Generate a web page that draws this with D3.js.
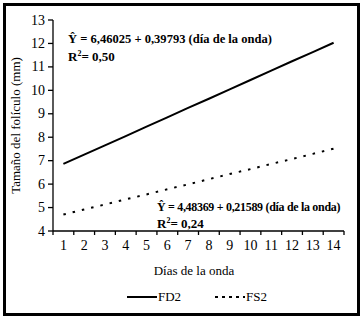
<!DOCTYPE html>
<html><head><meta charset="utf-8">
<script src="https://cdn.jsdelivr.net/npm/d3@7"></script>
<style>body{margin:0;background:#fff}svg{display:block}
svg text{font-family:'Liberation Serif','Times New Roman','DejaVu Serif',serif}</style>
</head><body>
<svg id="c" width="361" height="319"></svg>
<script>
const days = [1,2,3,4,5,6,7,8,9,10,11,12,13,14];
const fd2 = [6.86,7.26,7.65,8.05,8.45,8.85,9.25,9.64,10.04,10.44,10.84,11.24,11.63,12.03];
const fs2 = [4.70,4.92,5.13,5.35,5.56,5.78,5.99,6.21,6.43,6.64,6.86,7.07,7.29,7.51];
const yTicks = [4,5,6,7,8,9,10,11,12,13];
const seriesNames = ["FD2","FS2"];

const svg = d3.select("#c");
svg.append("rect").attr("x",4.5).attr("y",4.5).attr("width",354).attr("height",310)
  .attr("fill","#fff").attr("stroke","#000").attr("stroke-width",3);

const m = {l:53, t:20, r:344, b:231};
const x = d3.scaleBand().domain(days).range([m.l, m.r]);
const y = d3.scaleLinear().domain([4,13]).range([m.b, m.t]);

const gx = svg.append("g").attr("transform",`translate(0,${m.b})`);
gx.append("line").attr("x1",m.l).attr("x2",m.r).attr("stroke","#000").attr("stroke-width",1.3);
const bounds = d3.range(days.length+1).map(i => m.l + i*x.step());
gx.selectAll("line.t").data(bounds).enter().append("line").attr("class","t")
  .attr("x1",d=>d).attr("x2",d=>d).attr("y1",0).attr("y2",4).attr("stroke","#000").attr("stroke-width",1.3);
gx.selectAll("text").data(days).enter().append("text")
  .attr("x",d=>x(d)+x.bandwidth()/2).attr("y",19).attr("text-anchor","middle")
  .attr("font-size",14).text(d=>d);

const gy = svg.append("g");
gy.append("line").attr("x1",m.l).attr("x2",m.l).attr("y1",m.t).attr("y2",m.b).attr("stroke","#000").attr("stroke-width",1.3);
gy.selectAll("line.t").data(yTicks).enter().append("line").attr("class","t")
  .attr("x1",m.l-5).attr("x2",m.l).attr("y1",d=>y(d)).attr("y2",d=>y(d)).attr("stroke","#000").attr("stroke-width",1.3);
gy.selectAll("text").data(yTicks).enter().append("text")
  .attr("x",m.l-8).attr("y",d=>y(d)+4.5).attr("text-anchor","end")
  .attr("font-size",14).text(d=>d);

svg.append("text").attr("transform",`translate(20,${(m.t+m.b)/2}) rotate(-90)`)
  .attr("text-anchor","middle").attr("font-size",13)
  .text("Tamaño del folículo (mm)");
svg.append("text").attr("x",194).attr("y",275).attr("text-anchor","middle")
  .attr("font-size",13).text("Días de la onda");

const line = d3.line().x((d,i)=>x(days[i])+x.bandwidth()/2).y(d=>y(d));
svg.append("path").datum(fd2).attr("d",line).attr("fill","none").attr("stroke","#000").attr("stroke-width",2);
svg.append("path").datum(fs2).attr("d",line).attr("fill","none").attr("stroke","#000").attr("stroke-width",2).attr("stroke-dasharray","2.5,7");

// equations, sized to fit their width in the reference
function fitText(t, target){
  const w = t.node().getComputedTextLength();
  const fs = +t.attr("font-size");
  t.attr("font-size", Math.min(fs, fs*target/w).toFixed(2));
}
const e1 = svg.append("text").attr("x",68).attr("y",43).attr("font-size",13).attr("font-weight","bold")
  .text("Ŷ = 6,46025 + 0,39793 (día de la onda)");
fitText(e1, 204);
svg.append("text").attr("x",68).attr("y",61).attr("font-size",13).attr("font-weight","bold")
  .html("R<tspan font-size='8' dy='-5'>2</tspan><tspan dy='5'>= 0,50</tspan>");
const e2 = svg.append("text").attr("x",157).attr("y",211).attr("font-size",13).attr("font-weight","bold")
  .attr("letter-spacing",-0.3)
  .text("Ŷ = 4,48369 + 0,21589 (día de la onda)");
fitText(e2, 184);
svg.append("text").attr("x",157).attr("y",228).attr("font-size",13).attr("font-weight","bold")
  .html("R<tspan font-size='8' dy='-5'>2</tspan><tspan dy='5'>= 0,24</tspan>");

// legend
const lg = svg.append("g").attr("transform","translate(0,297)");
lg.append("line").attr("x1",127).attr("x2",157).attr("y1",0).attr("y2",0).attr("stroke","#000").attr("stroke-width",2);
lg.append("text").attr("x",158).attr("y",4).attr("font-size",13).text(seriesNames[0]);
lg.append("line").attr("x1",215).attr("x2",245).attr("y1",0).attr("y2",0).attr("stroke","#000").attr("stroke-width",2).attr("stroke-dasharray","3,4");
lg.append("text").attr("x",246).attr("y",4).attr("font-size",13).text(seriesNames[1]);
</script>
</body></html>
